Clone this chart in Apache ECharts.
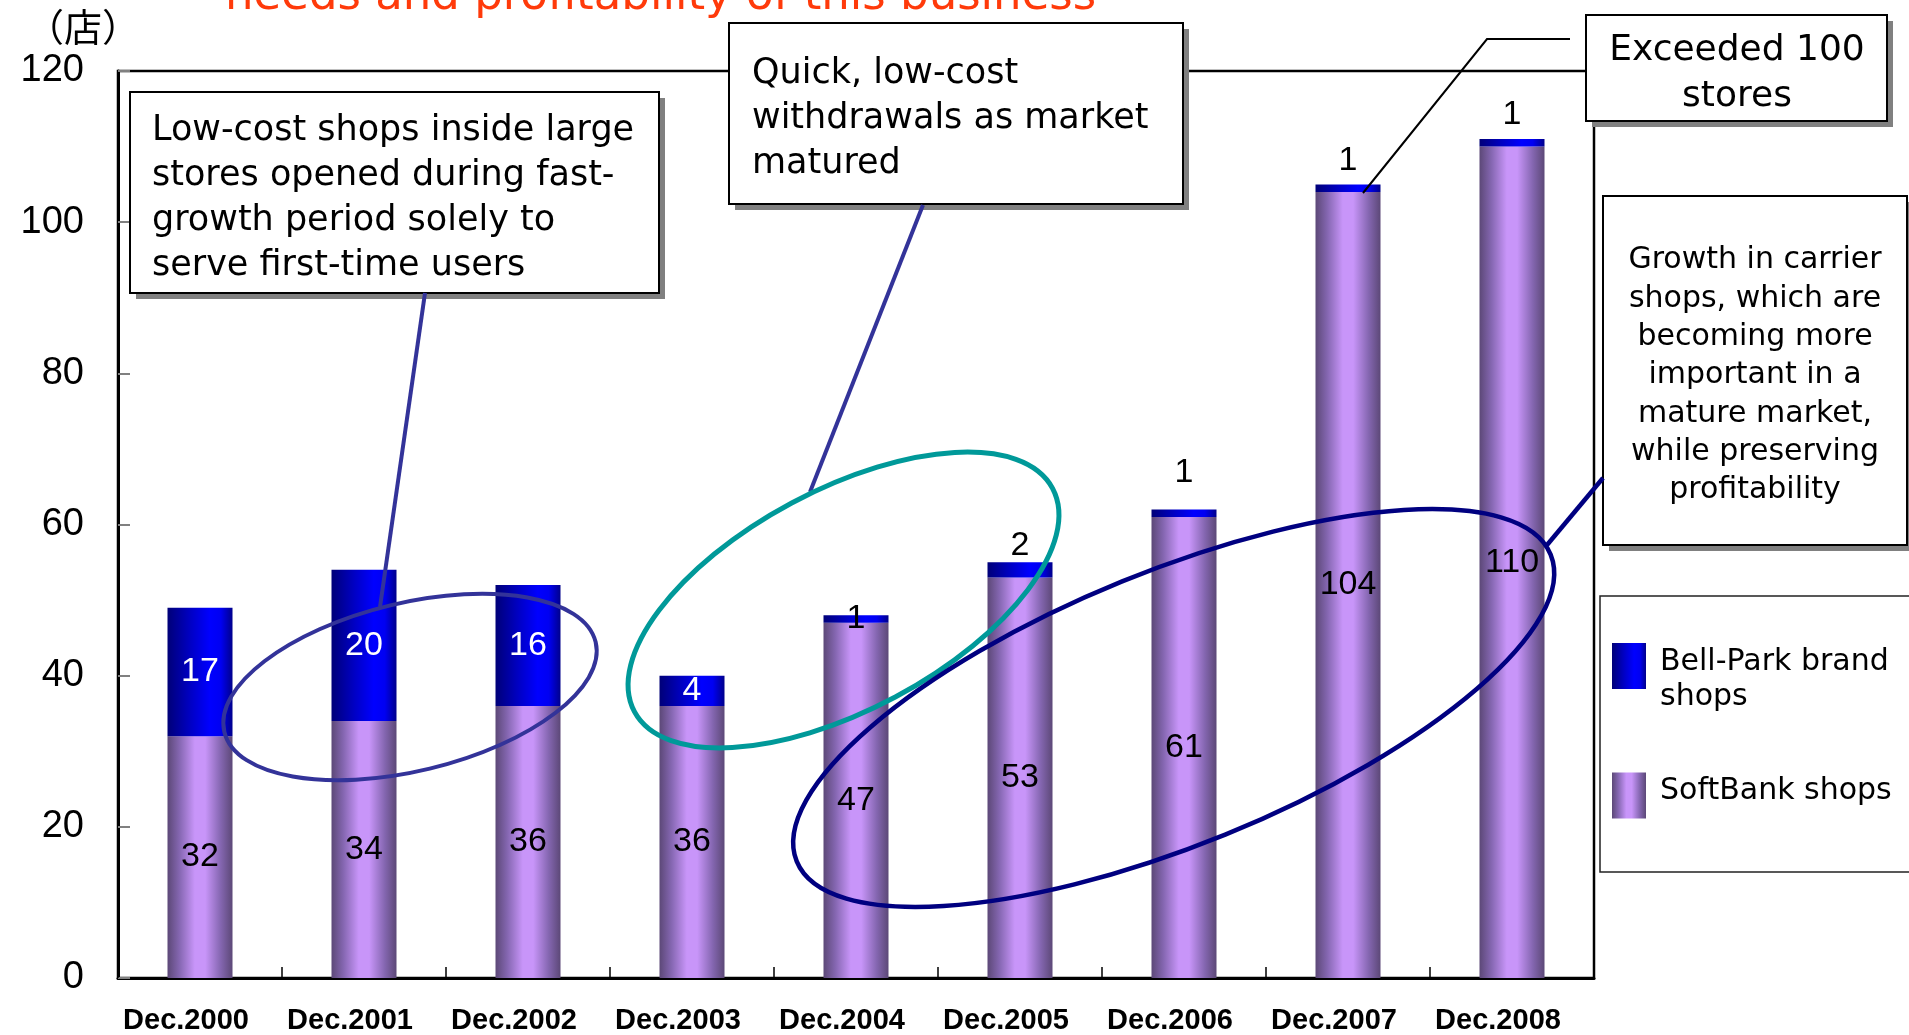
<!DOCTYPE html>
<html>
<head>
<meta charset="utf-8">
<style>
html,body{margin:0;padding:0;background:#fff;}
#chart{width:1909px;height:1035px;}
</style>
<script src="https://cdn.jsdelivr.net/npm/echarts@6/dist/echarts.min.js"></script>
</head>
<body>
<div id="chart"></div>
<script>
// ---- data ----
const categories = ['Dec.2000','Dec.2001','Dec.2002','Dec.2003','Dec.2004','Dec.2005','Dec.2006','Dec.2007','Dec.2008'];
const softBankShops = [32, 34, 36, 36, 47, 53, 61, 104, 110];
const bellParkShops = [17, 20, 16, 4, 1, 2, 1, 1, 1];
const yMin = 0, yMax = 120, yStep = 20;
const unitLabel = '（店）';
const titleFragment = 'needs and profitability of this business';
const seriesNames = ['SoftBank shops', 'Bell-Park brand shops'];
const legendLines = {'Bell-Park brand shops': ['Bell-Park brand', 'shops'], 'SoftBank shops': ['SoftBank shops']};
const noteLowCost = ['Low-cost shops inside large', 'stores opened during fast-', 'growth period solely to', 'serve first-time users'];
const noteWithdrawal = ['Quick, low-cost', 'withdrawals as market', 'matured'];
const note100 = ['Exceeded 100', 'stores'];
const noteGrowth = ['Growth in carrier', 'shops, which are', 'becoming more', 'important in a', 'mature market,', 'while preserving', 'profitability'];

// ---- styles ----
const bellLabelStyle = [
  {position:'inside', color:'#fff'},
  {position:'inside', color:'#fff'},
  {position:'inside', color:'#fff'},
  {position:'inside', color:'#fff'},
  {position:'inside', color:'#000'},
  {position:'top', color:'#000', distance:0},
  {position:'top', color:'#000', distance:20},
  {position:'top', color:'#000', distance:7},
  {position:'top', color:'#000', distance:7}
];

const purpleGrad = {type:'linear', x:0, y:0, x2:1, y2:0, colorStops:[
  {offset:0, color:'#5c4877'},
  {offset:0.18, color:'#8466b0'},
  {offset:0.42, color:'#c895f9'},
  {offset:0.58, color:'#c895f9'},
  {offset:0.82, color:'#8466b0'},
  {offset:1, color:'#5c4877'}
]};
const blueGrad = {type:'linear', x:0, y:0, x2:1, y2:0, colorStops:[
  {offset:0, color:'#000078'},
  {offset:0.35, color:'#0000c4'},
  {offset:0.65, color:'#0000ff'},
  {offset:0.82, color:'#0000f2'},
  {offset:1, color:'#00008c'}
]};

const numFont = 'Liberation Sans';
const txtFont = 'DejaVu Sans';

const bellItems = bellParkShops.map((v, i) => ({
  value: v,
  label: Object.assign({show:true}, bellLabelStyle[i])
}));

function box(x, y, w, h, shadow) {
  const arr = [];
  if (shadow) arr.push({type:'rect', z:99, shape:{x:x+6, y:y+6, width:w, height:h}, style:{fill:'#808080'}});
  arr.push({type:'rect', z:100, shape:{x:x, y:y, width:w, height:h}, style:{fill:'#fff', stroke:'#000', lineWidth:2}});
  return arr;
}
function txt(x, y, lines, size, lh, align) {
  return {type:'text', z:101, x:x, y:y, style:{text:lines.join('\n'), fontFamily:txtFont, fontSize:size, lineHeight:lh, fill:'#000', align:align, verticalAlign:'top'}};
}
function ell(cx, cy, rx, ry, deg, color, w) {
  return {type:'ellipse', z:102, x:cx, y:cy, rotation:deg*Math.PI/180, shape:{cx:0, cy:0, rx:rx, ry:ry}, style:{fill:'none', stroke:color, lineWidth:w}};
}
function seg(x1, y1, x2, y2, color, w) {
  return {type:'line', z:102, shape:{x1:x1, y1:y1, x2:x2, y2:y2}, style:{stroke:color, lineWidth:w}};
}

const graphics = [].concat(
  [{type:'text', z:101, x:225, y:-3, style:{text:titleFragment, fontFamily:txtFont, fontSize:45, fill:'#ff3a0a', verticalAlign:'middle'}}],
  [{type:'text', z:101, x:83, y:27, style:{text:unitLabel, fontFamily:'Noto Sans CJK JP', fontSize:38, fill:'#000', align:'center', verticalAlign:'middle'}}],
  box(130, 92, 529, 201, true),
  [txt(152, 108.5, noteLowCost, 35, 45, 'left')],
  box(729, 23, 454, 181, true),
  [txt(752, 51.5, noteWithdrawal, 35, 45, 'left')],
  box(1586, 15, 301, 106, true),
  [txt(1737, 28, note100, 36, 46, 'center')],
  box(1603, 196, 304, 349, true),
  [txt(1755, 241.5, noteGrowth, 30, 38.3, 'center')],
  [{type:'rect', z:98, shape:{x:1600, y:596, width:400, height:276}, style:{fill:'none', stroke:'#222', lineWidth:1.5}}],
  [
    seg(425, 293, 380, 607, '#333399', 4),
    seg(923, 205, 810, 492, '#333399', 4),
    {type:'polyline', z:102, shape:{points:[[1570,39],[1487,39],[1363,193]]}, style:{stroke:'#000', lineWidth:2, fill:'none'}},
    seg(1547, 545, 1603, 478, '#000080', 4.5),
    ell(410, 687, 191, 84, 13.6, '#333399', 4),
    ell(843.5, 600, 237, 110, 28.1, '#009999', 5),
    ell(1173.7, 708, 407, 136.7, 22.15, '#000080', 4.5)
  ]
);

const legendText = {fontFamily:txtFont, fontSize:30, lineHeight:35, color:'#000', padding:[0,0,0,9],
  rich:{top:{fontSize:1, lineHeight:27}, bot:{fontSize:1, lineHeight:9}}};

const chart = echarts.init(document.getElementById('chart'), null, {renderer:'canvas'});
chart.setOption({
  animation: false,
  backgroundColor: '#fff',
  grid: {left:118, right:315, top:71, bottom:57, show:true, borderColor:'#000', borderWidth:2.5, backgroundColor:'transparent', containLabel:false, outerBoundsMode:'none'},
  legend: [
    {data:[seriesNames[1]], left:1612, top:617.5, orient:'vertical', padding:0, itemWidth:34, itemHeight:46, itemGap:0, icon:'rect', selectedMode:false,
     formatter: (n) => '{top| }\n' + legendLines[n].join('\n'),
     textStyle: legendText},
    {data:[seriesNames[0]], left:1612, top:772.5, orient:'vertical', padding:0, itemWidth:34, itemHeight:46, itemGap:0, icon:'rect', selectedMode:false,
     formatter: (n) => legendLines[n].join('\n') + '\n{bot| }',
     textStyle: legendText}
  ],
  xAxis: {
    type:'category', data:categories,
    axisLine:{show:true, lineStyle:{color:'#000', width:3}},
    axisTick:{show:true, inside:true, length:11, lineStyle:{color:'#000', width:1.5}},
    axisLabel:{fontFamily:numFont, fontWeight:'bold', fontSize:29, lineHeight:29, color:'#000', margin:28, padding:[0,28,0,0], interval:0},
    splitLine:{show:false}
  },
  yAxis: {
    type:'value', min:yMin, max:yMax, interval:yStep,
    axisLine:{show:true, lineStyle:{color:'#000', width:3}},
    axisTick:{show:true, inside:true, length:12, lineStyle:{color:'#808080', width:2}},
    axisLabel:{fontFamily:numFont, fontSize:38, color:'#000', margin:34},
    splitLine:{show:false}
  },
  series: [
    {name:seriesNames[0], type:'bar', stack:'total', barWidth:65, data:softBankShops,
     itemStyle:{color:purpleGrad},
     label:{show:true, position:'inside', color:'#000', fontFamily:numFont, fontSize:34},
     emphasis:{disabled:true}},
    {name:seriesNames[1], type:'bar', stack:'total', barWidth:65, data:bellItems,
     itemStyle:{color:blueGrad},
     label:{show:true, fontFamily:numFont, fontSize:34},
     emphasis:{disabled:true}}
  ],
  graphic: graphics
});
</script>
</body>
</html>
